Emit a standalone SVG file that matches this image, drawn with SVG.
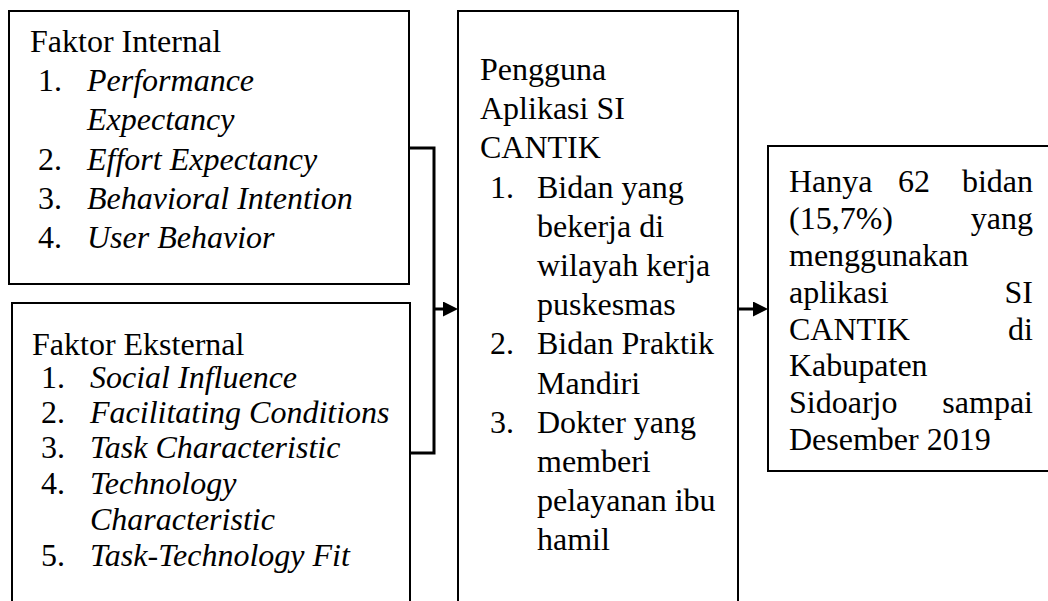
<svg xmlns="http://www.w3.org/2000/svg" width="1048" height="601" viewBox="0 0 1048 601">
<style>
.box{fill:#fff;stroke:#000;stroke-width:2}
.con{fill:none;stroke:#000;stroke-width:3}
.t{font-family:"Liberation Serif","Times New Roman",serif;font-size:32px;fill:#000}
.i{font-style:italic}
</style>
<defs>
<marker id="ah" markerUnits="userSpaceOnUse" markerWidth="15" markerHeight="15" refX="0" refY="7.5" orient="auto">
<path d="M0,0 L15,7.5 L0,15 z" fill="#000"/>
</marker>
</defs>
<rect width="1048" height="601" fill="#fff"/>
<g id="connectors">
<polyline class="con" points="410,148 434,148 434,453 410,453"/>
<line class="con" x1="434" y1="309" x2="443" y2="309" marker-end="url(#ah)"/>
<line class="con" x1="738" y1="309" x2="753" y2="309" marker-end="url(#ah)"/>
</g>
<g id="faktor-internal">
<rect class="box" x="9" y="11" width="400" height="273"/>
<text class="t" x="30" y="52">Faktor Internal</text>
<text class="t" x="38" y="91">1.</text><text class="t i" x="87" y="91">Performance</text>
<text class="t i" x="87" y="130">Expectancy</text>
<text class="t" x="38" y="170">2.</text><text class="t i" x="87" y="170">Effort Expectancy</text>
<text class="t" x="38" y="209">3.</text><text class="t i" x="87" y="209">Behavioral Intention</text>
<text class="t" x="38" y="248">4.</text><text class="t i" x="87" y="248">User Behavior</text>
</g>
<g id="faktor-eksternal">
<rect class="box" x="12" y="303" width="398" height="310"/>
<text class="t" x="32" y="355">Faktor Eksternal</text>
<text class="t" x="41" y="388">1.</text><text class="t i" x="90" y="388">Social Influence</text>
<text class="t" x="41" y="423">2.</text><text class="t i" x="90" y="423">Facilitating Conditions</text>
<text class="t" x="41" y="458">3.</text><text class="t i" x="90" y="458">Task Characteristic</text>
<text class="t" x="41" y="494">4.</text><text class="t i" x="90" y="494">Technology</text>
<text class="t i" x="90" y="530">Characteristic</text>
<text class="t" x="41" y="566">5.</text><text class="t i" x="90" y="566">Task-Technology Fit</text>
</g>
<g id="pengguna">
<rect class="box" x="458" y="11" width="280" height="600"/>
<text class="t" x="480" y="80">Pengguna</text>
<text class="t" x="480" y="119">Aplikasi SI</text>
<text class="t" x="480" y="158">CANTIK</text>
<text class="t" x="490" y="198">1.</text><text class="t" x="537" y="198">Bidan yang</text>
<text class="t" x="537" y="237">bekerja di</text>
<text class="t" x="537" y="276">wilayah kerja</text>
<text class="t" x="537" y="315">puskesmas</text>
<text class="t" x="490" y="354">2.</text><text class="t" x="537" y="354">Bidan Praktik</text>
<text class="t" x="537" y="394">Mandiri</text>
<text class="t" x="490" y="433">3.</text><text class="t" x="537" y="433">Dokter yang</text>
<text class="t" x="537" y="472">memberi</text>
<text class="t" x="537" y="511">pelayanan ibu</text>
<text class="t" x="537" y="550">hamil</text>
</g>
<g id="hasil">
<rect class="box" x="768" y="146" width="300" height="325"/>
<text class="t" y="192"><tspan x="789">Hanya</tspan><tspan x="898">62</tspan><tspan x="1033" text-anchor="end">bidan</tspan></text>
<text class="t" y="229"><tspan x="789">(15,7%)</tspan><tspan x="1033" text-anchor="end">yang</tspan></text>
<text class="t" x="789" y="266">menggunakan</text>
<text class="t" y="303"><tspan x="789">aplikasi</tspan><tspan x="1033" text-anchor="end">SI</tspan></text>
<text class="t" y="340"><tspan x="789">CANTIK</tspan><tspan x="1033" text-anchor="end">di</tspan></text>
<text class="t" x="789" y="376">Kabupaten</text>
<text class="t" y="413"><tspan x="789">Sidoarjo</tspan><tspan x="1033" text-anchor="end">sampai</tspan></text>
<text class="t" x="789" y="450">Desember 2019</text>
</g>
</svg>
